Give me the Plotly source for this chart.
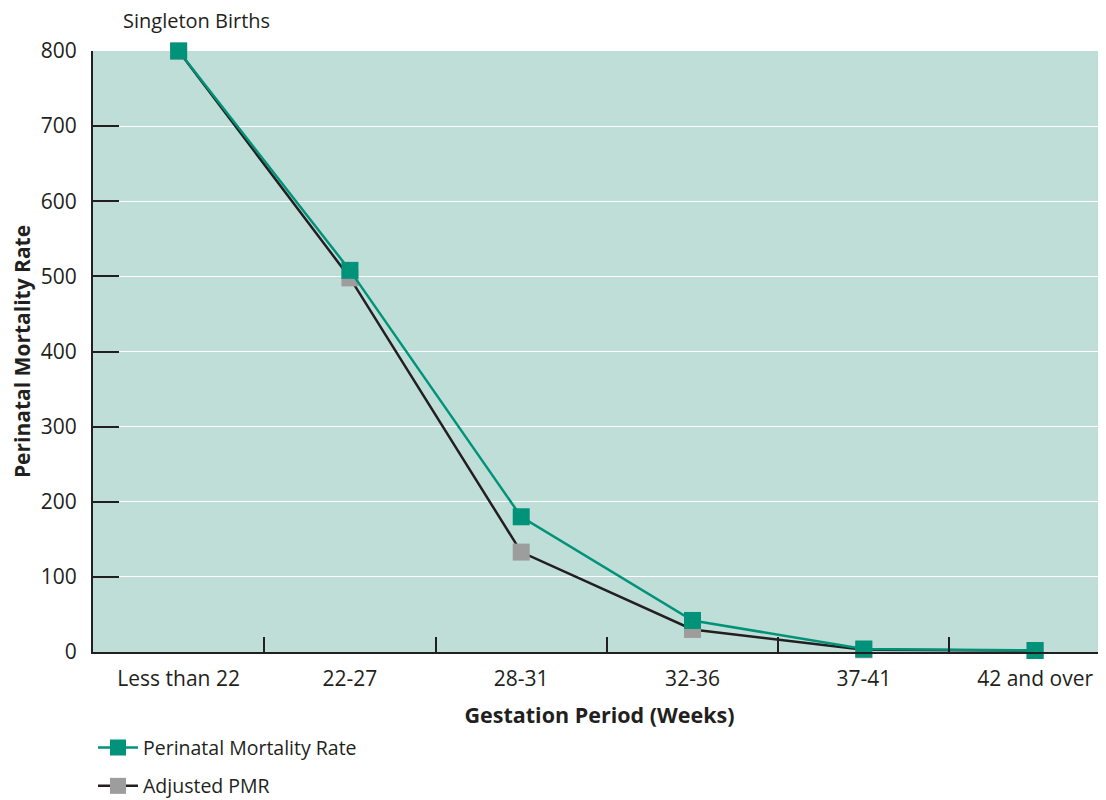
import plotly.graph_objects as go

# ---- data --------------------------------------------------------------------

periods = ["Less than 22", "22-27", "28-31", "32-36", "37-41", "42 and over"]
pmr = [800, 508, 180, 42, 4, 2]
adjusted_pmr = [800, 498, 133, 30, 3, 2]

GREEN = "#00937a"
DARK = "#231f20"
GREY = "#9d9d9d"
BG = "#c0ded8"
FONT = "Open Sans, Noto Sans, sans-serif"

fig = go.Figure()

# adjusted drawn first so the green series sits on top
fig.add_trace(go.Scatter(
    x=periods, y=adjusted_pmr, mode="lines+markers",
    name="Adjusted PMR",
    line=dict(color=DARK, width=2.5),
    marker=dict(symbol="square", size=17, color=GREY),
    cliponaxis=False, legendrank=2, legendgroup="b",
))
fig.add_trace(go.Scatter(
    x=periods, y=pmr, mode="lines+markers",
    name="Perinatal Mortality Rate",
    line=dict(color=GREEN, width=2.5),
    marker=dict(symbol="square", size=17, color=GREEN),
    cliponaxis=False, legendrank=1, legendgroup="a",
))

# page body has an 8px margin, so the figure is sized down to fit the window
fig.update_layout(
    width=1098, height=792,
    margin=dict(l=85, r=0, t=43, b=148, autoexpand=False),
    paper_bgcolor="white",
    plot_bgcolor=BG,
    font=dict(family=FONT, color=DARK, size=20),
    xaxis=dict(
        type="category", range=[-0.5, 5.414],
        tickson="boundaries", ticks="inside", ticklen=15, tickwidth=1.5, tickcolor=DARK,
        showgrid=False, showline=True, linecolor=DARK, linewidth=2,
        tickfont=dict(size=21), ticklabelstandoff=7,
        title=dict(text="<b>Gestation Period (Weeks)</b>", font=dict(size=21.5), standoff=17),
    ),
    yaxis=dict(
        range=[0, 800], tickvals=[0, 100, 200, 300, 400, 500, 600, 700, 800],
        ticks="inside", ticklen=26, tickwidth=1.5, tickcolor=DARK,
        showgrid=True, gridcolor="white", gridwidth=1.2,
        showline=True, linecolor=DARK, linewidth=2, zeroline=False,
        tickfont=dict(size=21), ticklabelstandoff=10,
        title=dict(text="<b>Perinatal Mortality Rate</b>", font=dict(size=21), standoff=7),
    ),
    legend=dict(
        x=0, xanchor="left", y=-0.127, yanchor="top",
        font=dict(size=19.5), tracegroupgap=10, itemwidth=40,
        bgcolor="rgba(0,0,0,0)",
    ),
    showlegend=True,
    annotations=[dict(
        text="Singleton Births", xref="paper", yref="paper",
        x=0.028, y=1.05, xanchor="left", yanchor="middle",
        showarrow=False, font=dict(size=20),
    )],
)

fig.write_html("out.html")
